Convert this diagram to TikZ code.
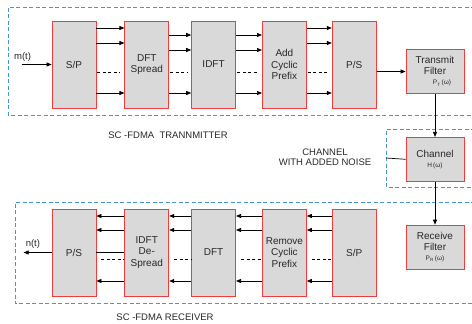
\documentclass[tikz,border=0pt]{standalone}
\usepackage{fontspec}
\setmainfont{Liberation Sans}
\usepackage{tikz}
\usetikzlibrary{arrows.meta, positioning, calc}
\definecolor{myred}{RGB}{240,60,60}
\definecolor{mygrey}{RGB}{217,217,217}
\definecolor{myblue}{RGB}{70,150,210}
\definecolor{mydark}{RGB}{40,40,40}
\tikzset{
  block/.style={rectangle, draw=myred, fill=mygrey, text=mydark,
    minimum width=44pt, minimum height=87pt, align=center,
    font=\fontsize{10}{11.5}\selectfont, line width=0.8pt, inner sep=1pt},
  filtblock/.style={block, minimum width=58pt, minimum height=44pt,
    font=\fontsize{10}{10.5}\selectfont},
  arrow/.style={-{Triangle[length=5pt,width=4pt]}, line width=0.7pt, color=black},
  line/.style={line width=0.7pt, color=black},
  dline/.style={line width=0.7pt, color=black, dash pattern=on 3pt off 2.5pt},
  groupbox/.style={draw=myblue, line width=0.9pt, dash pattern=on 4pt off 2.5pt},
  lbl/.style={font=\fontsize{9.5}{10.5}\selectfont, text=mydark, align=center, inner sep=1pt},
  small/.style={font=\fontsize{6.5}{7}\selectfont}
}
\newcommand{\omg}{(ω)}

\begin{document}
\begin{tikzpicture}[x=1pt, y=-1pt, node distance=25pt]
  \useasboundingbox (0,0) rectangle (472,324);

  % Transmitter chain
  \node[block] (spT) at (74,64.5) {S/P};
  \node[block, right=28pt of spT] (dftT) {DFT\\Spread};
  \node[block, right=22pt of dftT] (idftT) {IDFT};
  \node[block, right=26pt of idftT] (cpT) {Add\\Cyclic\\Prefix};
  \node[block, right=25pt of cpT] (psT) {P/S};
  \node[filtblock, right=29pt of psT, yshift=-7pt] (txF)
    {Transmit\\Filter\\\hspace*{14pt}{\fontsize{6.5}{7}\selectfont P\textsubscript{T}\,\omg}};

  % Channel and receive filter
  \node[filtblock, below=43pt of txF] (chan)
    {Channel\\{\fontsize{6.5}{9}\selectfont H\,\omg}};
  \node[filtblock, below=43pt of chan] (rxF)
    {Receive\\Filter\\{\fontsize{6.5}{7}\selectfont P\textsubscript{R}\,\omg}};

  % Receiver chain
  \node[block] (psR) at (74,252.5) {P/S};
  \node[block, right=28pt of psR] (idftR) {IDFT\\De-\\Spread};
  \node[block, right=22pt of idftR] (dftR) {DFT};
  \node[block, right=26pt of dftR] (cpR) {Remove\\Cyclic\\Prefix};
  \node[block, right=25pt of cpR] (spR) {S/P};

  % Dashed groups
  \draw[groupbox] (475,7) -- (8,7) -- (8,115) -- (475,115);
  \draw[groupbox] (475,129) -- (386,129) -- (386,187) -- (475,187);
  \draw[groupbox] (475,202) -- (15,202) -- (15,303) -- (475,303);

  % Transmitter parallel lines
  \foreach \a/\b/\o in {spT/dftT/0, dftT/idftT/7, idftT/cpT/7, cpT/psT/0} {
    \foreach \r in {-36.5,-21.5} {
      \draw[arrow] ($(\a.east)+(0,\r+\o)$) -- ($(\b.west)+(0,\r+\o)$);
    }
    \draw[arrow] ($(\a.east)+(0,28.5)$) -- ($(\b.west)+(0,28.5)$);
    \draw[dline] ($(\a.east)+(1,7.5)$) -- ($(\b.west)+(-4,7.5)$);
  }

  % Receiver parallel lines
  \foreach \a/\b in {psR/idftR, idftR/dftR, dftR/cpR, cpR/spR} {
    \foreach \r in {-36.5,-22.5,28.5} {
      \draw[arrow] ($(\b.west)+(0,\r)$) -- ($(\a.east)+(0,\r)$);
    }
    \draw[dline] ($(\a.east)+(5,6.5)$) -- ($(\b.west)+(0,6.5)$);
  }
  \draw[line] (psR.east) -- (idftR.west);

  % Input and output
  \coordinate[left=30pt of spT] (min);
  \draw[arrow] (min) -- (spT.west);
  \node[lbl, above=2pt of min, xshift=1pt] (minlbl) {m(t)};
  \coordinate[left=28pt of psR] (nout);
  \draw[arrow] (psR.west) -- (nout);
  \node[lbl, above right=3pt and 1pt of nout] (noutlbl) {n(t)};

  % Filters and channel
  \draw[arrow] (psT.east |- txF) -- (txF.west);
  \draw[arrow] (txF) -- (chan);
  \draw[arrow] (chan) -- (rxF);
  \coordinate (chin) at (386,158);
  \draw[line] (chin) -- (chan.west);

  % Group labels
  \node[lbl] (txlbl) at (168,135) {SC -FDMA\ \ TRANNMITTER};
  \node[lbl] (chlbl) at (325,157) {CHANNEL\\WITH ADDED NOISE};
  \node[lbl] (rxlbl) at (165,317) {SC -FDMA RECEIVER};
\end{tikzpicture}
\end{document}
